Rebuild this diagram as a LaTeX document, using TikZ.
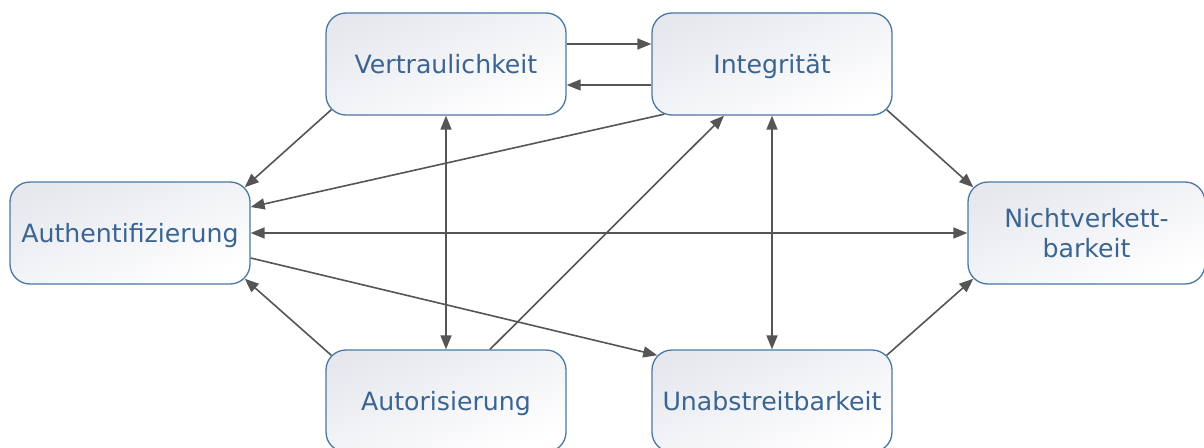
\documentclass[tikz,border=0pt]{standalone}
\usepackage{fontspec}
\setmainfont{DejaVu Sans}
\usetikzlibrary{arrows.meta}
\definecolor{txt}{HTML}{3B6590}
\definecolor{bord}{HTML}{4A78A5}
\definecolor{shadeA}{HTML}{E6E8EE}
\definecolor{shadeM}{HTML}{F8F9FB}
\definecolor{lin}{HTML}{555555}
\tikzset{
  boxbase/.style={draw=bord, line width=1.3pt, rounded corners=20pt,
    top color=shadeA, middle color=shadeM, bottom color=white, shading angle=22,
    minimum width=240pt, minimum height=102pt, inner sep=0pt,
    text=txt, font=\fontsize{25.2}{30}\selectfont, align=center},
  box/.style={boxbase, text height=18.4pt, text depth=0pt},
  conn/.style={draw=lin, line width=1.6pt, -{Triangle[length=14pt,width=11pt]}},
  conn2/.style={draw=lin, line width=1.6pt, {Triangle[length=14pt,width=11pt]}-{Triangle[length=14pt,width=11pt]}}
}
\begin{document}
\begin{tikzpicture}[x=1pt,y=-1pt]
\useasboundingbox (0,0) rectangle (1204,447);
\fill[white] (0,0) rectangle (1204,447);
\clip (0,0) rectangle (1204,447);
\node[box] (V) at (446,64) {Vertraulichkeit};
\node[box] (I) at (772,64) {Integrität};
\node[box] (A) at (130,233) {Authentifizierung};
\node[boxbase, minimum width=237pt] (N) at (1086.5,233) {Nichtverkett-\\barkeit};
\node[box] (Au) at (446,401) {Autorisierung};
\node[box] (U) at (772,401) {Unabstreitbarkeit};
% horizontal pair
\draw[conn] ([yshift=20pt]V.east) -- ([yshift=20pt]I.west);
\draw[conn] ([yshift=-21pt]I.west) -- ([yshift=-21pt]V.east);
% to Authentifizierung
\draw[conn] ([xshift=5.9pt,yshift=5.9pt]V.south west) -- ([xshift=-5.9pt,yshift=-5.9pt]A.north east);
\draw[conn] ([xshift=13pt,yshift=1.5pt]I.south west) -- ([yshift=26pt]A.east);
\draw[conn2] (A.east) -- (N.west);
\draw[conn] ([xshift=5.9pt,yshift=-5.9pt]Au.north west) -- ([xshift=-5.9pt,yshift=5.9pt]A.south east);
% verticals
\draw[conn2] (V.south) -- (Au.north);
\draw[conn2] (I.south) -- (U.north);
% diagonals
\draw[conn] ([xshift=44pt]Au.north) -- ([xshift=-48pt]I.south);
\draw[conn] ([yshift=-25pt]A.east) -- ([xshift=5.9pt,yshift=-5.9pt]U.north west);
\draw[conn] ([xshift=-5.9pt,yshift=5.9pt]I.south east) -- ([xshift=5.9pt,yshift=-5.9pt]N.north west);
\draw[conn] ([xshift=-5.9pt,yshift=-5.9pt]U.north east) -- ([xshift=5.9pt,yshift=5.9pt]N.south west);
\end{tikzpicture}
\end{document}
